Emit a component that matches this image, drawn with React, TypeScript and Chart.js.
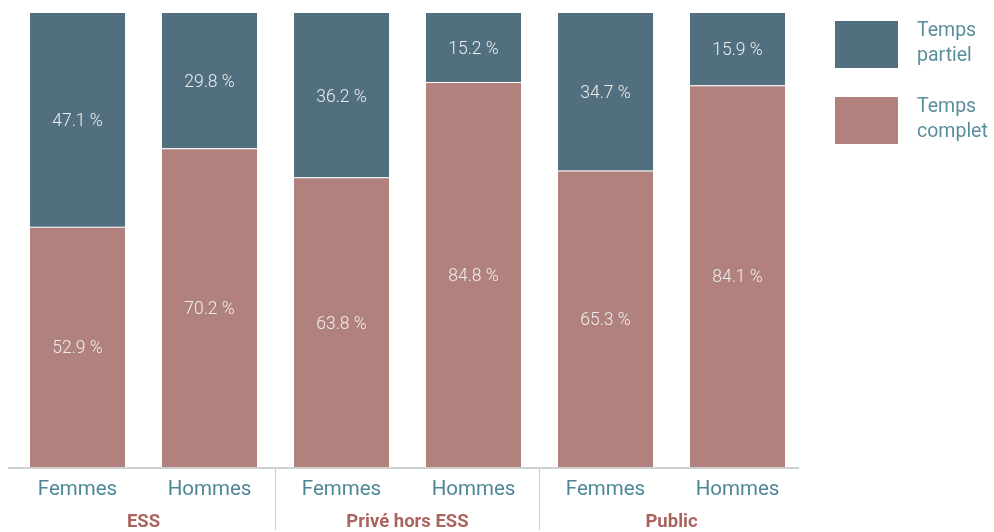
import React, { useEffect, useRef } from "react";
import { Chart, registerables } from "chart.js";

Chart.register(...registerables);

const categories = ["Femmes", "Hommes", "Femmes", "Hommes", "Femmes", "Hommes"];
const groups = ["ESS", "Privé hors ESS", "Public"];
const tempsComplet = [52.9, 70.2, 63.8, 84.8, 65.3, 84.1];
const tempsPartiel = [47.1, 29.8, 36.2, 15.2, 34.7, 15.9];
const seriesLabels = ["Temps partiel", "Temps complet"];

const BLUE = "#516f7e";
const PINK = "#b0817d";
const TEAL_TEXT = "#4e8797";
const GROUP_TEXT = "#a9645f";

const fmt = (v: number) => v.toFixed(1) + " %";

const overlayPlugin = {
  id: "overlay",
  afterDatasetsDraw(chart: any) {
    const ctx = chart.ctx;
    ctx.save();
    ctx.font = "300 17.5px Roboto";
    ctx.fillStyle = "#eeeeee";
    ctx.textAlign = "center";
    ctx.textBaseline = "middle";
    chart.data.datasets.forEach((ds: any, di: number) => {
      const meta = chart.getDatasetMeta(di);
      meta.data.forEach((el: any, i: number) => {
        const { x, y, base } = el.getProps(["x", "y", "base"], true);
        ctx.fillText(fmt(ds.data[i]), x, (y + base) / 2 + 2);
      });
    });
    ctx.restore();
  },
  afterDraw(chart: any) {
    const ctx = chart.ctx;
    const xs = chart.scales.x;
    const area = chart.chartArea;
    ctx.save();
    // axis line
    ctx.strokeStyle = "#d0d0d0";
    ctx.lineWidth = 2;
    ctx.beginPath();
    ctx.moveTo(8, area.bottom + 1);
    ctx.lineTo(799, area.bottom + 1);
    ctx.stroke();
    // separators + group labels
    const per = categories.length / groups.length;
    const step = xs.getPixelForValue(1) - xs.getPixelForValue(0);
    ctx.lineWidth = 1;
    ctx.strokeStyle = "#cccccc";
    groups.forEach((g, gi) => {
      const first = xs.getPixelForValue(gi * per);
      const last = xs.getPixelForValue(gi * per + per - 1);
      if (gi > 0) {
        const sx = Math.round(first - step / 2) - 0.5;
        ctx.beginPath();
        ctx.moveTo(sx, area.bottom + 2);
        ctx.lineTo(sx, 530);
        ctx.stroke();
      }
      ctx.font = "bold 18.5px Roboto";
      ctx.fillStyle = GROUP_TEXT;
      ctx.textAlign = "center";
      ctx.textBaseline = "middle";
      ctx.fillText(g, (first + last) / 2, 522);
    });
    // legend
    const colors = [BLUE, PINK];
    ctx.font = "19.5px Roboto";
    ctx.textAlign = "left";
    ctx.textBaseline = "middle";
    seriesLabels.forEach((lab, li) => {
      const top = 21 + li * 76;
      ctx.fillStyle = colors[li];
      ctx.fillRect(835, top, 63, 47);
      ctx.fillStyle = "#5b8e9c";
      const words = lab.split(" ");
      words.forEach((w, wi) => {
        ctx.fillText(w, 917, top + 10 + wi * 25);
      });
    });
    ctx.restore();
  },
};

export default function App() {
  const ref = useRef<HTMLCanvasElement | null>(null);
  useEffect(() => {
    if (!ref.current) return;
    const chart = new Chart(ref.current, {
      type: "bar",
      data: {
        labels: categories,
        datasets: [
          {
            label: seriesLabels[1],
            data: tempsComplet,
            backgroundColor: PINK,
            borderColor: "#ffffff",
            borderWidth: { top: 1, left: 0, right: 0, bottom: 0 },
            borderSkipped: false,
            categoryPercentage: 1,
            barPercentage: 0.72,
          },
          {
            label: seriesLabels[0],
            data: tempsPartiel,
            backgroundColor: BLUE,
            borderWidth: 0,
            categoryPercentage: 1,
            barPercentage: 0.72,
          },
        ],
      },
      options: {
        animation: false,
        responsive: true,
        maintainAspectRatio: false,
        layout: { padding: { left: 11.5, right: 190.5, top: 13, bottom: 0 } },
        plugins: {
          legend: { display: false },
          tooltip: { enabled: false },
        },
        scales: {
          x: {
            stacked: true,
            grid: { display: false, drawTicks: false },
            border: { display: false },
            ticks: {
              color: TEAL_TEXT,
              font: { family: "Roboto", size: 20.5 },
              padding: 11,
            },
            afterFit: (s: any) => {
              s.height = 65;
            },
          },
          y: {
            stacked: true,
            display: false,
            min: 0,
            max: 100,
          },
        },
      },
      plugins: [overlayPlugin],
    });
    return () => chart.destroy();
  }, []);
  return (
    <div style={{ position: "fixed", left: 0, top: 0, width: 994, height: 532, background: "#fff" }}>
      <canvas ref={ref} />
    </div>
  );
}
